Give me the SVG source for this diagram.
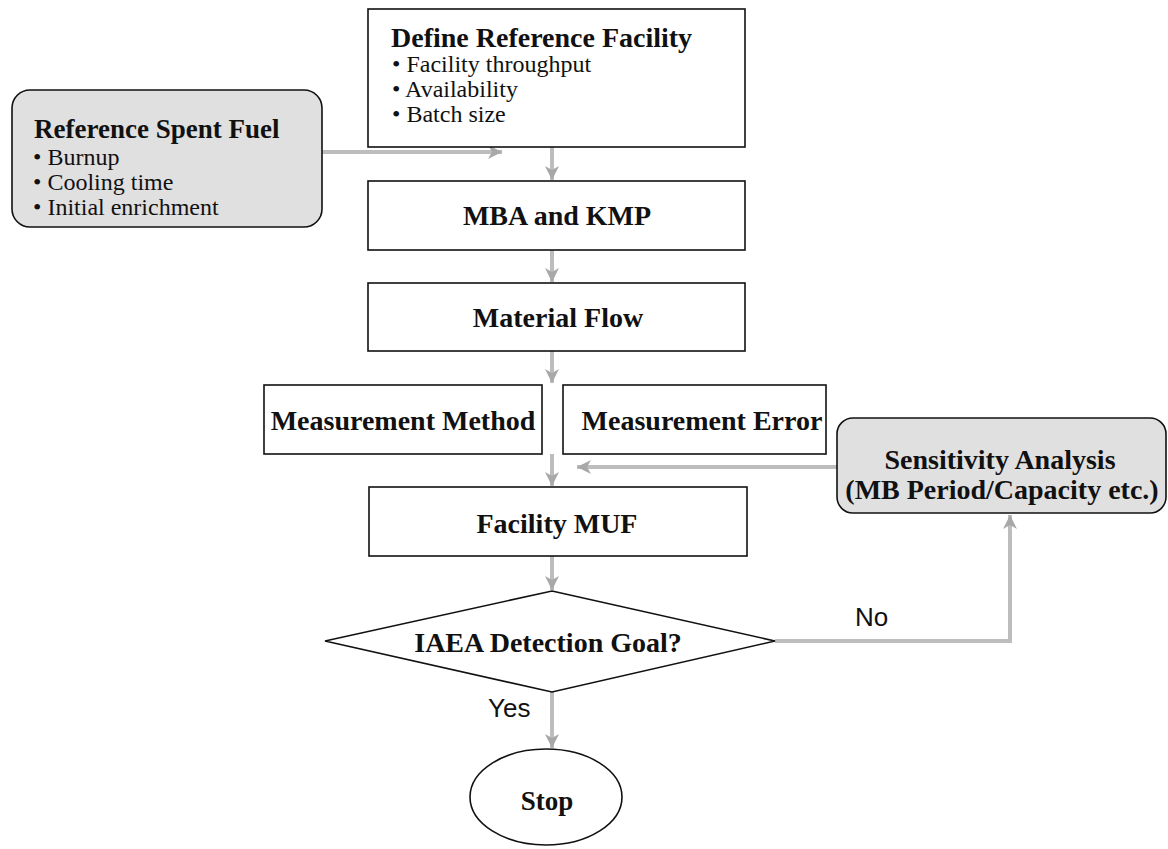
<svg xmlns="http://www.w3.org/2000/svg" width="1168" height="849" viewBox="0 0 1168 849">
<style>
.box{fill:#fff;stroke:#111;stroke-width:1.6}
.gbox{fill:#e0e0e0;stroke:#111;stroke-width:1.6}
.t{font-family:"Liberation Serif","Times New Roman",serif;font-weight:bold;font-size:28px;fill:#111}
.tc{font-family:"Liberation Serif","Times New Roman",serif;font-weight:bold;font-size:28px;fill:#111;text-anchor:middle}
.b{font-family:"Liberation Serif","Times New Roman",serif;font-size:24px;fill:#111}
.lbl{font-family:"Liberation Sans",Arial,sans-serif;font-size:26px;fill:#111}
.c{fill:none;stroke:#bdbdbd;stroke-width:4}
</style>
<defs>
<marker id="ah" markerUnits="userSpaceOnUse" markerWidth="16" markerHeight="14" refX="14" refY="7" orient="auto">
<path d="M0,0 L14,7 L0,14 L4,7 Z" fill="#a8a8a8"/>
</marker>
</defs>
<g id="connectors">
<line class="c" x1="322" y1="152" x2="502" y2="152" marker-end="url(#ah)"/>
<line class="c" x1="552" y1="147" x2="552" y2="180" marker-end="url(#ah)"/>
<line class="c" x1="552" y1="250" x2="552" y2="282" marker-end="url(#ah)"/>
<line class="c" x1="552" y1="351" x2="552" y2="383" marker-end="url(#ah)"/>
<line class="c" x1="552" y1="454" x2="552" y2="486" marker-end="url(#ah)"/>
<line class="c" x1="837" y1="467" x2="577" y2="467" marker-end="url(#ah)"/>
<line class="c" x1="552" y1="556" x2="552" y2="590" marker-end="url(#ah)"/>
<line class="c" x1="552" y1="692" x2="552" y2="748" marker-end="url(#ah)"/>
<polyline class="c" points="775,641 1010,641 1010,515" marker-end="url(#ah)"/>
</g>
<g id="define-reference-facility">
<rect class="box" x="368" y="9" width="377" height="138"/>
<text class="t" x="391" y="47">Define Reference Facility</text>
<text class="b" x="392" y="72">• Facility throughput</text>
<text class="b" x="392" y="97">• Availability</text>
<text class="b" x="392" y="122">• Batch size</text>
</g>
<g id="reference-spent-fuel">
<rect class="gbox" x="12" y="90" width="310" height="137" rx="18" ry="18"/>
<text class="t" x="34" y="138" style="font-size:27px">Reference Spent Fuel</text>
<text class="b" x="33" y="165">• Burnup</text>
<text class="b" x="33" y="190">• Cooling time</text>
<text class="b" x="33" y="215">• Initial enrichment</text>
</g>
<g id="mba-kmp">
<rect class="box" x="368" y="181" width="377" height="69"/>
<text class="tc" x="557" y="225">MBA and KMP</text>
</g>
<g id="material-flow">
<rect class="box" x="368" y="283" width="377" height="68"/>
<text class="tc" x="558" y="327">Material Flow</text>
</g>
<g id="measurement-method">
<rect class="box" x="264" y="385" width="278" height="69"/>
<text class="tc" x="403" y="430">Measurement Method</text>
</g>
<g id="measurement-error">
<rect class="box" x="563" y="385" width="263" height="69"/>
<text class="tc" x="702" y="430">Measurement Error</text>
</g>
<g id="sensitivity-analysis">
<rect class="gbox" x="837" y="418" width="329" height="95" rx="16" ry="16"/>
<text class="tc" x="1000" y="469">Sensitivity Analysis</text>
<text class="tc" x="1002" y="499">(MB Period/Capacity etc.)</text>
</g>
<g id="facility-muf">
<rect class="box" x="369" y="487" width="378" height="69"/>
<text class="tc" x="557" y="533">Facility MUF</text>
</g>
<g id="iaea-goal">
<polygon class="box" points="552,591 775,641 552,692 325,641"/>
<text class="tc" x="548" y="652">IAEA Detection Goal?</text>
</g>
<g id="stop">
<ellipse class="box" cx="546" cy="797" rx="76" ry="48"/>
<text class="tc" x="547" y="810" style="font-size:27px">Stop</text>
</g>
<g id="labels">
<text class="lbl" x="855" y="626">No</text>
<text class="lbl" x="488" y="717">Yes</text>
</g>
</svg>
